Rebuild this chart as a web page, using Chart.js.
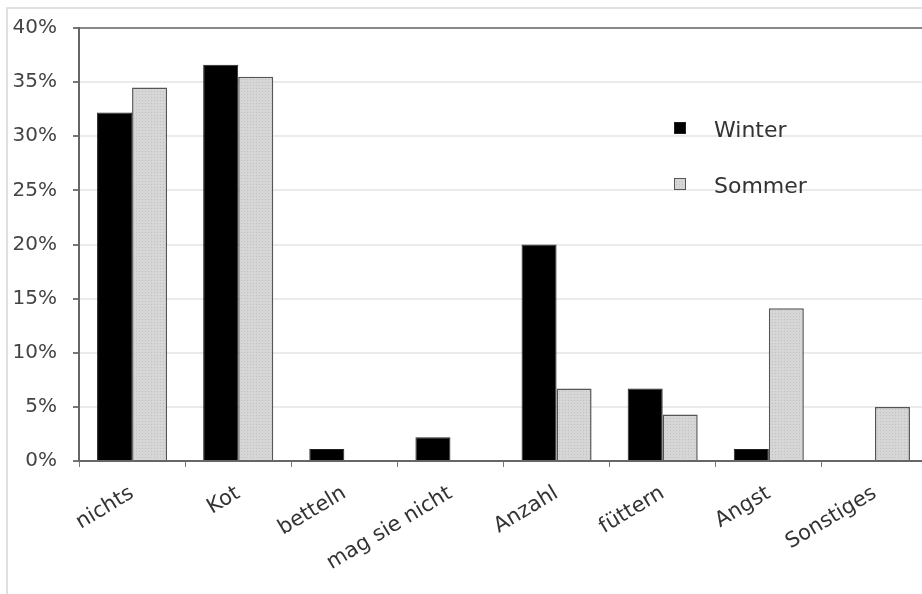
<!DOCTYPE html>
<html>
<head>
<meta charset="utf-8">
<script src="https://cdn.jsdelivr.net/npm/chart.js@4/dist/chart.umd.min.js"></script>
<style>
    body { margin: 0; overflow: hidden; background: #fff; }
    #frame { position: absolute; left: 6px; top: 7px; width: 930px; height: 600px;
             border-top: 2px solid #e0e0e0; border-left: 2px solid #e0e0e0; }
    #wrap { position: absolute; left: 0; top: 0; width: 940px; height: 594px; }
</style>
</head>
<body>
<div id="frame"></div>
<div id="wrap"><canvas id="chart"></canvas></div>
<script>
const categories = ["nichts", "Kot", "betteln", "mag sie nicht", "Anzahl", "füttern", "Angst", "Sonstiges"];
const winter = [32.2, 36.6, 1.1, 2.2, 20.0, 6.7, 1.1, 0];
const sommer = [34.5, 35.5, 0, 0, 6.7, 4.3, 14.1, 5.0];
const seriesNames = ["Winter", "Sommer"];
const yTicks = [0, 5, 10, 15, 20, 25, 30, 35, 40];

const FONT = "'DejaVu Sans', sans-serif";

// gepunktetes Grau wie im Original
function stipple() {
    const c = document.createElement("canvas");
    c.width = 3; c.height = 3;
    const g = c.getContext("2d");
    g.fillStyle = "#d6d6d6";
    g.fillRect(0, 0, 3, 3);
    g.fillStyle = "#c0c0c0";
    g.fillRect(1, 1, 1, 1);
    return g.createPattern(c, "repeat");
}
const sommerFill = stipple();

const legendInside = {
    id: "legendInside",
    afterDatasetsDraw(chart) {
        const ctx = chart.ctx;
        const rows = [{ y: 128 }, { y: 184 }];
        ctx.save();
        chart.data.datasets.forEach((ds, i) => {
            const y = rows[i].y;
            ctx.fillStyle = ds.backgroundColor;
            ctx.fillRect(674, y - 6, 12, 12);
            ctx.strokeStyle = ds.borderColor;
            ctx.lineWidth = 1;
            ctx.strokeRect(674.5, y - 5.5, 11, 11);
            ctx.fillStyle = "#333";
            ctx.font = "22px " + FONT;
            ctx.textBaseline = "middle";
            ctx.fillText(ds.label, 714, y + 3);
        });
        ctx.restore();
    }
};

new Chart(document.getElementById("chart"), {
    type: "bar",
    data: {
        labels: categories,
        datasets: [
            { label: seriesNames[0], data: winter, backgroundColor: "#000", borderColor: "#222",
              borderWidth: 1, categoryPercentage: 0.66, barPercentage: 1.0 },
            { label: seriesNames[1], data: sommer, backgroundColor: sommerFill, borderColor: "#555",
              borderWidth: 1.5, categoryPercentage: 0.66, barPercentage: 1.0 }
        ]
    },
    options: {
        responsive: true,
        maintainAspectRatio: false,
        animation: false,
        layout: { padding: { top: 22, right: 12, left: 0, bottom: 0 } },
        plugins: { legend: { display: false }, tooltip: { enabled: false } },
        scales: {
            x: {
                grid: { drawOnChartArea: false, drawTicks: true, tickLength: 6, tickColor: "#777", offset: true },
                border: { color: "#666", width: 2 },
                ticks: { minRotation: 31, maxRotation: 31, padding: 14, color: "#333",
                         font: { family: FONT, size: 21 } },
                afterFit(scale) { scale.height = 133; }
            },
            y: {
                min: 0, max: 40,
                afterBuildTicks(scale) { scale.ticks = yTicks.map(v => ({ value: v })); },
                grid: {
                    color: c => c.tick && c.tick.value === 40 ? "#888" : "#ebebeb",
                    lineWidth: 2,
                    tickLength: 6,
                    tickColor: "#777"
                },
                border: { color: "#666", width: 2 },
                ticks: { padding: 16, color: "#444", font: { family: FONT, size: 20 },
                         callback: v => v + "%" },
                afterFit(scale) { scale.width = 79; }
            }
        }
    },
    plugins: [legendInside]
});
</script>
</body>
</html>
